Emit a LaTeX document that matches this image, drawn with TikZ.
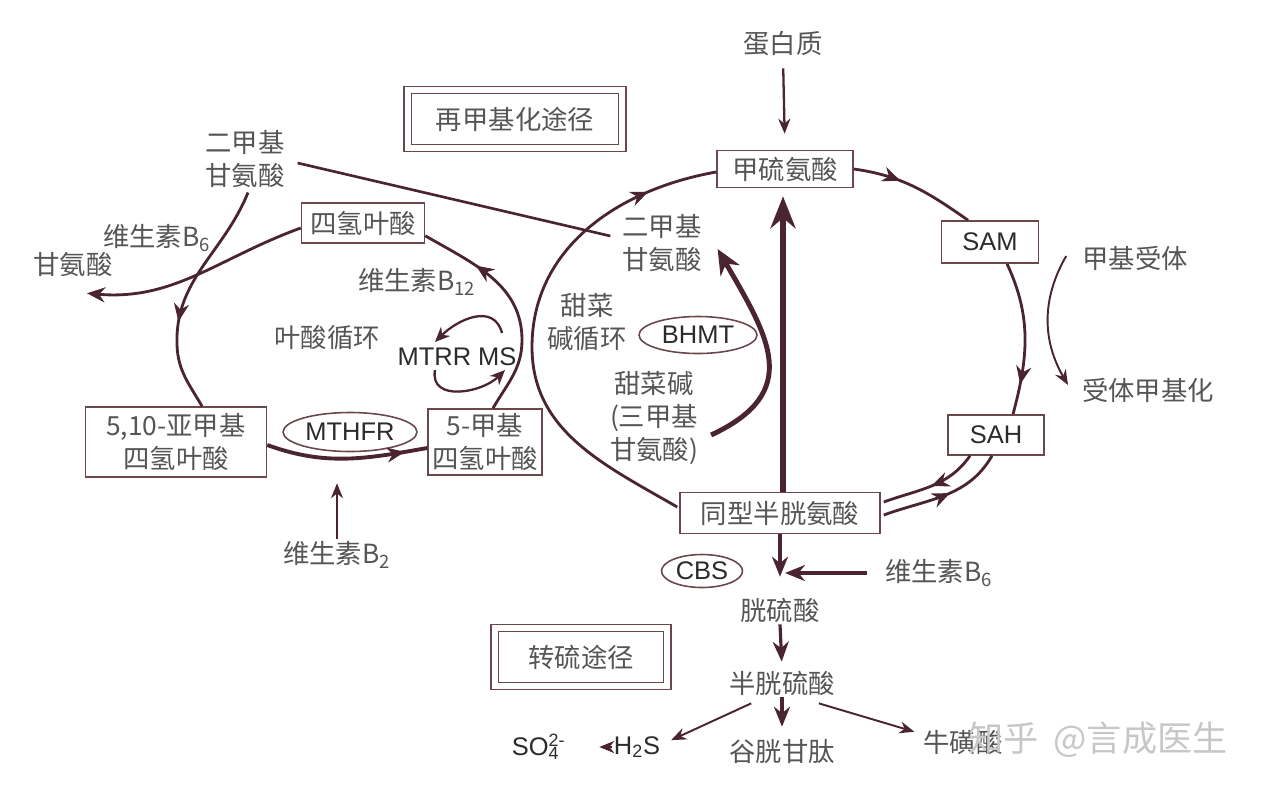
\documentclass[tikz,border=0pt]{standalone}
\usepackage{fontspec}
\setmainfont{Noto Sans CJK SC}
\newfontfamily\latin{Liberation Sans}
\usepackage{tikz}
\usetikzlibrary{arrows.meta, positioning, calc, shapes.geometric, decorations.markings}

\definecolor{linecol}{HTML}{4A2430}
\definecolor{boxcol}{HTML}{6B474C}
\definecolor{txtcol}{HTML}{555555}
\definecolor{latcol}{HTML}{2B2B2B}

\begin{document}
\begin{tikzpicture}[
    x=0.02cm, y=0.02cm,
    every node/.style={font=\fontsize{15}{18.5}\selectfont, align=center, text=txtcol},
    lbl/.style={inner sep=1pt},
    lat/.style={text=latcol, font=\fontsize{14.5}{18}\latin},
    bx/.style={rectangle, draw=boxcol, line width=0.9pt, fill=white, inner sep=0pt},
    dbx/.style={rectangle, draw=boxcol, line width=0.8pt, double=white, double distance=0.12cm, inner sep=0pt},
    enz/.style={ellipse, draw=boxcol, line width=0.9pt, inner sep=0pt, lat},
    cyc/.style={draw=linecol, line width=1.6pt},
    midarr/.style={postaction={decorate}, decoration={markings, mark=at position #1 with {\arrow{Stealth[length=3.6mm, width=3mm]}}}},
    arrow/.style={draw=linecol, line width=1.8pt, -{Stealth[length=4mm, width=3.2mm]}},
    thinarrow/.style={draw=linecol, line width=1.1pt, -{Stealth[length=3mm, width=2.4mm]}},
    fatarrow/.style={draw=linecol, line width=3.4pt, -{Stealth[length=6.4mm, width=5mm]}}
]
\useasboundingbox[fill=white] (0,0) rectangle (1267,-792);

% Methionine cycle
\node (prot) [lbl] at (783,-44) {蛋白质};
\node (met) [bx, minimum width=2.72cm, minimum height=0.74cm] at (785,-169) {甲硫氨酸};
\node (sam) [bx, lat, minimum width=1.94cm, minimum height=0.84cm] at (990,-242) {SAM};
\node (sah) [bx, lat, minimum width=1.92cm, minimum height=0.8cm] at (996,-435) {SAH};
\node (hcy) [bx, minimum width=4cm, minimum height=0.82cm] at (780,-513) {同型半胱氨酸};
\node (accept) [lbl] at (1135,-258) {甲基受体};
\node (methyl) [lbl] at (1148,-390) {受体甲基化};
\node (remeth) [dbx, minimum width=4.3cm, minimum height=1.16cm] at (515,-119) {再甲基化途径};

% Betaine cycle
\node (dmg2) [lbl] at (662,-243) {二甲基\\甘氨酸};
\node (betc) [lbl] at (587,-322) {甜菜\\碱循环};
\node (bhmt) [enz, minimum width=2.36cm, minimum height=0.74cm] at (698,-335) {BHMT};
\node (bet) [lbl] at (654,-418) {甜菜碱\\(三甲基\\甘氨酸)};

% Folate cycle
\node (dmg1) [lbl] at (245,-159) {二甲基\\甘氨酸};
\node (b6a) [lbl] at (157,-238) {维生素B\textsubscript{6}};
\node (gly) [lbl] at (73,-264) {甘氨酸};
\node (thf) [bx, minimum width=2.46cm, minimum height=0.8cm] at (363,-223) {四氢叶酸};
\node (b12) [lbl] at (417,-282) {维生素B\textsubscript{12}};
\node (folc) [lbl] at (327,-338) {叶酸循环};
\node (mtrr) [lbl, lat] at (457,-357) {MTRR MS};
\node (mthf10) [bx, minimum width=3.62cm, minimum height=1.4cm] at (176,-442) {5,10-亚甲基\\四氢叶酸};
\node (mthfr) [enz, minimum width=2.68cm, minimum height=0.78cm] at (350,-432) {MTHFR};
\node (mthf5) [bx, minimum width=2.28cm, minimum height=1.32cm] at (485,-442) {5-甲基\\四氢叶酸};
\node (b2) [lbl] at (337,-555) {维生素B\textsubscript{2}};

% Transsulfuration
\node (cbs) [enz, minimum width=1.62cm, minimum height=0.66cm] at (702,-571) {CBS};
\node (b6b) [lbl] at (939,-573) {维生素B\textsubscript{6}};
\node (cyst) [lbl] at (780,-610) {胱硫酸};
\node (cys) [lbl] at (782,-683) {半胱硫酸};
\node (gsh) [lbl] at (782,-752) {谷胱甘肽};
\node (h2s) [lbl, lat] at (637,-747) {H\textsubscript{2}S};
\node (so4) [lbl, lat] at (544,-747) {SO\rlap{\textsuperscript{2-}}\textsubscript{4}\phantom{\textsuperscript{2-}}};
\node (tau) [lbl] at (963,-742) {牛磺酸};
\node (transs) [dbx, minimum width=3.46cm, minimum height=1.16cm] at (581,-657) {转硫途径};
\node (wm) [lbl, text=black!22, font=\fontsize{20}{24}\selectfont] at (1098,-740) {知乎\hspace{0.3cm}@言成医生};

\coordinate (mcl) at (532,-347);
\coordinate (fl) at (177,-345);
\coordinate (fr) at (522,-340);

% Arrows
\draw [thinarrow, line width=1.3pt, shorten <=0.2cm, shorten >=0.32cm] (prot.south) -- (met.north);
\draw [cyc, midarr=0.86] ($(hcy.west)+(-2,6)$) to[out=150, in=-90] (mcl) to[out=90, in=190] ($(met.west)+(0,-3)$);
\draw [cyc, midarr=0.38] (met.east) to[out=-8, in=145] ($(sam.north)+(-22,0)$);
\draw [cyc, midarr=0.8] ($(sam.south)+(17,0)$) to[out=-65, in=75] ($(sah.north)+(17,0)$);
\draw [cyc, midarr=0.5] ($(sah.south)+(-26,0)$) to[out=-125, in=20] ($(hcy.east)+(3,11)$);
\draw [cyc, midarr=0.55] ($(hcy.east)+(3,-2)$) to[out=20, in=-120] ($(sah.south)+(-4,0)$);
\draw [thinarrow] ($(accept.west)+(-14,2)$) to[out=-120, in=120] ($(methyl.west)+(-12,5)$);
\draw [fatarrow] ($(hcy.north)+(3,0)$) -- ($(met.south)+(-2,-8)$);

\draw [fatarrow, line width=2.8pt, -{Stealth[length=5mm, width=4.4mm]}] ($(bet.east)+(11,-17)$) to[out=25, in=-60, looseness=1.4] ($(dmg2.east)+(14,-6)$);
\draw [cyc, line width=1.5pt] ($(dmg1.east)+(11,-4)$) -- ($(dmg2.west)+(-10,7)$);

\draw [cyc, midarr=0.62] ($(dmg1.south)+(3,-3)$) to[out=-112, in=92] (fl) to[out=-88, in=120] ($(mthf10.north)+(26,0)$);
\draw [cyc, -{Stealth[length=3.6mm, width=3mm]}] ($(thf.west)+(0,-5)$) to[out=200, in=-5] ($(gly.south)+(14,-15)$);
\draw [cyc, midarr=0.74] ($(mthf5.north)+(8,0)$) to[out=60, in=-90] (fr) to[out=90, in=-30] ($(thf.south east)+(0,8)$);
\draw [cyc, line width=1.3pt, -{Stealth[length=3mm, width=2.6mm]}] ($(mtrr.center)+(45,24)$) to[out=105, in=45, looseness=1.2] ($(mtrr.center)+(-22,15)$);
\draw [cyc, line width=1.3pt, -{Stealth[length=3mm, width=2.6mm]}] ($(mtrr.center)+(-22,-13)$) to[out=-100, in=-135, looseness=1.2] ($(mtrr.center)+(48,-13)$);
\draw [cyc, line width=2.2pt, midarr=0.86] ($(mthf10.east)+(0,-3)$) to[out=-20, in=190] ($(mthf5.west)+(0,-6)$);
\draw [thinarrow, shorten >=0.62cm] (b2.north) -- (b2.north |- mthfr.south);

\draw [arrow, shorten >=0.38cm] (hcy.south) -- (cyst.north);
\draw [arrow, shorten <=0.32cm, shorten >=0.1cm] (b6b.west) -- (b6b.west -| hcy.south);
\draw [arrow, shorten >=0.14cm] (cyst.south) -- (cys.north);
\draw [arrow, shorten >=0.22cm] (cys.south) -- (gsh.north);
\draw [thinarrow] ($(cys.south west)+(24,-6)$) -- ($(h2s.north east)+(9,-6)$);
\draw [thinarrow] ($(cys.south east)+(-18,-6)$) -- ($(tau.north west)+(-7,-4)$);
\draw [thinarrow, line width=1.4pt, shorten >=0.42cm] (h2s.west) -- (so4.east);

\end{tikzpicture}
\end{document}
